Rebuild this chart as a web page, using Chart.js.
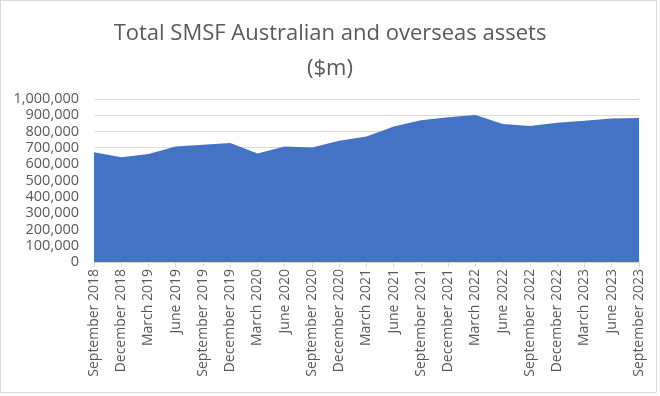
<!DOCTYPE html>
<html>
<head>
<meta charset="utf-8">
<script src="https://cdn.jsdelivr.net/npm/chart.js@4"></script>
<style>
  html, body { margin: 0; padding: 0; background: #fff; }
  .wrap { position: relative; width: 660px; height: 396px; }
  .frame { position: absolute; left: 0; top: 0; width: 655px; height: 391px; border: 1px solid #d9d9d9; pointer-events: none; }
  canvas { position: absolute; left: 0; top: 0; }
</style>
</head>
<body>
<div class="wrap">
  <canvas id="chartAssets" width="660" height="396" role="img" aria-label="Total SMSF Australian and overseas assets"></canvas>
  <div class="frame"></div>
</div>
<script>
// Quarterly totals ($m)
const quarters = [
  'September 2018', 'December 2018', 'March 2019', 'June 2019',
  'September 2019', 'December 2019', 'March 2020', 'June 2020',
  'September 2020', 'December 2020', 'March 2021', 'June 2021',
  'September 2021', 'December 2021', 'March 2022', 'June 2022',
  'September 2022', 'December 2022', 'March 2023', 'June 2023',
  'September 2023'
];
const totalAssets = [
  674000, 643000, 662000, 709000, 719000, 730000, 665000, 709000,
  702000, 744000, 770000, 832000, 869000, 888000, 902000, 847000,
  834000, 855000, 867000, 880000, 884000
];
const titleLines = ['Total SMSF Australian and overseas assets', '($m)'];

const TXT = '#595959';
const GRID = '#d9d9d9';
const FONT = "'Open Sans', sans-serif";

// centre the title on the whole canvas, not just on the padded layout box
const centreTitle = {
  id: 'centreTitle',
  afterLayout(chart) {
    const t = chart.titleBlock;
    if (t) { t.left = 0; t.right = chart.width; t.width = chart.width; }
  }
};

const ctx = document.getElementById('chartAssets');
new Chart(ctx, {
  type: 'line',
  data: {
    labels: quarters,
    datasets: [{
      label: 'Total assets',
      data: totalAssets,
      fill: 'origin',
      backgroundColor: '#4472C4',
      borderColor: '#4472C4',
      borderWidth: 0,
      pointRadius: 0,
      tension: 0
    }]
  },
  options: {
    responsive: false,
    animation: false,
    layout: { padding: { left: 0, right: 21, top: 0, bottom: 0 } },
    plugins: {
      legend: { display: false },
      tooltip: { enabled: false },
      title: {
        display: true,
        text: titleLines,
        color: TXT,
        font: { family: FONT, size: 22, weight: 'normal', lineHeight: 1.6 },
        padding: { top: 16, bottom: 12.6 }
      }
    },
    scales: {
      x: {
        offset: false,
        grid: { display: true, drawOnChartArea: false, drawTicks: true, tickLength: 5, color: GRID },
        border: { display: true, color: GRID },
        ticks: {
          color: TXT, font: { family: FONT, size: 14 },
          maxRotation: 90, minRotation: 90, autoSkip: false, padding: 2
        },
        afterFit: s => { s.height = 134; }
      },
      y: {
        min: 0, max: 1000000,
        grid: { color: GRID, drawTicks: false },
        border: { display: false },
        ticks: {
          stepSize: 100000, autoSkip: false, color: TXT, font: { family: FONT, size: 14.5 }, padding: 15,
          callback: v => v.toLocaleString('en-US')
        },
        afterFit: s => { s.width = 94; }
      }
    }
  },
  plugins: [centreTitle]
});
</script>
</body>
</html>
